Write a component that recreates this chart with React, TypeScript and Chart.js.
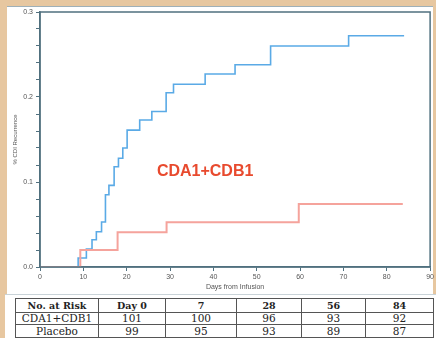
import React, { useEffect, useRef } from "react";
import { Chart, registerables } from "chart.js";

Chart.register(...registerables);

// Kaplan-Meier style step data
const cdaDays = [0, 8.8, 10.7, 12, 13, 14.2, 15.1, 15.9, 17.1, 18.1, 19.1, 20.1, 23, 25.8, 29.1, 30.8, 38.1, 45, 53.2, 71.2, 84];
const cdaValues = [0, 0.0106, 0.021, 0.032, 0.0415, 0.053, 0.085, 0.096, 0.118, 0.128, 0.14, 0.161, 0.173, 0.183, 0.205, 0.215, 0.227, 0.238, 0.26, 0.272, 0.272];
const placeboDays = [0, 9.3, 17.9, 29.2, 59.7, 83.7];
const placeboValues = [0, 0.02, 0.041, 0.0526, 0.074, 0.074];

const xTitle = "Days from Infusion";
const yTitle = "% CDI Recurrence";
const annotationText = "CDA1+CDB1";

const riskHeader = ["No. at Risk", "Day 0", "7", "28", "56", "84"];
const riskCda = ["CDA1+CDB1", "101", "100", "96", "93", "92"];
const riskPlacebo = ["Placebo", "99", "95", "93", "89", "87"];
const colWidths = [82, 66, 70, 64, 63, 67];

const AXIS = "#50707f";

export default function App() {
  const ref = useRef<HTMLCanvasElement | null>(null);

  useEffect(() => {
    document.body.style.margin = "0";
    const canvas = ref.current;
    if (!canvas) return;

    const boxPlugin = {
      id: "boxAndLabel",
      afterDraw(chart: any) {
        const { ctx, chartArea, scales } = chart;
        ctx.save();
        ctx.strokeStyle = AXIS;
        ctx.lineWidth = 1.5;
        ctx.strokeRect(chartArea.left, chartArea.top, chartArea.right - chartArea.left, chartArea.bottom - chartArea.top);
        ctx.fillStyle = "#e84a2e";
        ctx.font = "bold 16px 'Liberation Sans', Arial, sans-serif";
        ctx.textAlign = "center";
        ctx.textBaseline = "middle";
        ctx.fillText(annotationText, scales.x.getPixelForValue(38.1), scales.y.getPixelForValue(0.112));
        ctx.restore();
      },
    };

    const chart = new Chart(canvas, {
      type: "scatter",
      data: {
        datasets: [
          {
            label: "Placebo",
            data: placeboDays.map((d, i) => ({ x: d, y: placeboValues[i] })),
            showLine: true,
            stepped: "before",
            borderColor: "#f5a39c",
            borderWidth: 2,
            pointRadius: 0,
          },
          {
            label: "CDA1+CDB1",
            data: cdaDays.map((d, i) => ({ x: d, y: cdaValues[i] })),
            showLine: true,
            stepped: "before",
            borderColor: "#5aaae6",
            borderWidth: 1.6,
            pointRadius: 0,
          },
        ],
      },
      options: {
        responsive: false,
        animation: false,
        layout: { padding: { top: 12, right: 4, left: 0, bottom: 0 } },
        plugins: { legend: { display: false }, tooltip: { enabled: false } },
        scales: {
          x: {
            type: "linear",
            min: 0,
            max: 90,
            ticks: {
              stepSize: 10,
              autoSkip: false,
              padding: 2,
              color: "#555",
              font: { size: 7, family: "'Liberation Sans', Arial, sans-serif" },
            },
            grid: { drawOnChartArea: false, drawTicks: true, tickLength: 4, tickColor: AXIS },
            border: { display: true, color: AXIS, width: 1.5 },
            title: {
              display: true,
              text: xTitle,
              color: "#555",
              font: { size: 7, family: "'Liberation Sans', Arial, sans-serif" },
              padding: { top: 0, bottom: 1 },
            },
            afterFit(scale: any) {
              scale.height = 25;
            },
          },
          y: {
            type: "linear",
            min: 0,
            max: 0.3,
            ticks: {
              stepSize: 0.02,
              autoSkip: false,
              padding: 3,
              color: "#555",
              font: { size: 7, family: "'Liberation Sans', Arial, sans-serif" },
              callback(value: any) {
                const v = Number(value);
                return Math.abs(v * 10 - Math.round(v * 10)) < 1e-6 ? v.toFixed(1) : "";
              },
            },
            grid: { drawOnChartArea: false, drawTicks: true, tickLength: 4, tickColor: AXIS },
            border: { display: true, color: AXIS, width: 1.5 },
            title: {
              display: true,
              text: yTitle,
              color: "#555",
              font: { size: 6, family: "'Liberation Sans', Arial, sans-serif" },
              padding: { top: 12, bottom: 0 },
            },
            afterFit(scale: any) {
              scale.width = 40;
            },
          },
        },
      },
      plugins: [boxPlugin],
    } as any);

    return () => chart.destroy();
  }, []);

  const cellBase: React.CSSProperties = {
    border: "1px solid #555",
    padding: 0,
    textAlign: "center",
    color: "#222",
    fontFamily: "'DejaVu Serif', 'Liberation Serif', serif",
    whiteSpace: "nowrap",
  };

  const renderRow = (cells: string[], bold: boolean, h: number, size: number) => (
    <tr style={{ height: h }}>
      {cells.map((c, i) => (
        <td key={i} style={{ ...cellBase, fontWeight: bold ? 700 : 400, fontSize: size, lineHeight: `${h - 1}px`, width: colWidths[i] }}>
          {c}
        </td>
      ))}
    </tr>
  );

  return (
    <div style={{ position: "relative", width: 436, height: 338, background: "#e7c7a0", overflow: "hidden" }}>
      <div style={{ position: "absolute", left: 7, top: 6, width: 426, height: 288, background: "#fff", borderTop: "1px solid #9fb0b8" }} />
      <div style={{ position: "absolute", left: 5, top: 294, width: 431, height: 44, background: "#fff", borderTop: "1px solid #c9d3d8" }} />
      <canvas ref={ref} width={436} height={292} style={{ position: "absolute", left: 0, top: 0, width: 436, height: 292 }} />
      <table
        style={{
          position: "absolute",
          left: 15,
          top: 298,
          width: 412,
          borderCollapse: "collapse",
          border: "1.5px solid #444",
          tableLayout: "fixed",
        }}
      >
        <tbody>
          {renderRow(riskHeader, true, 14, 9.5)}
          {renderRow(riskCda, false, 12, 10.5)}
          {renderRow(riskPlacebo, false, 13, 10.5)}
        </tbody>
      </table>
    </div>
  );
}
